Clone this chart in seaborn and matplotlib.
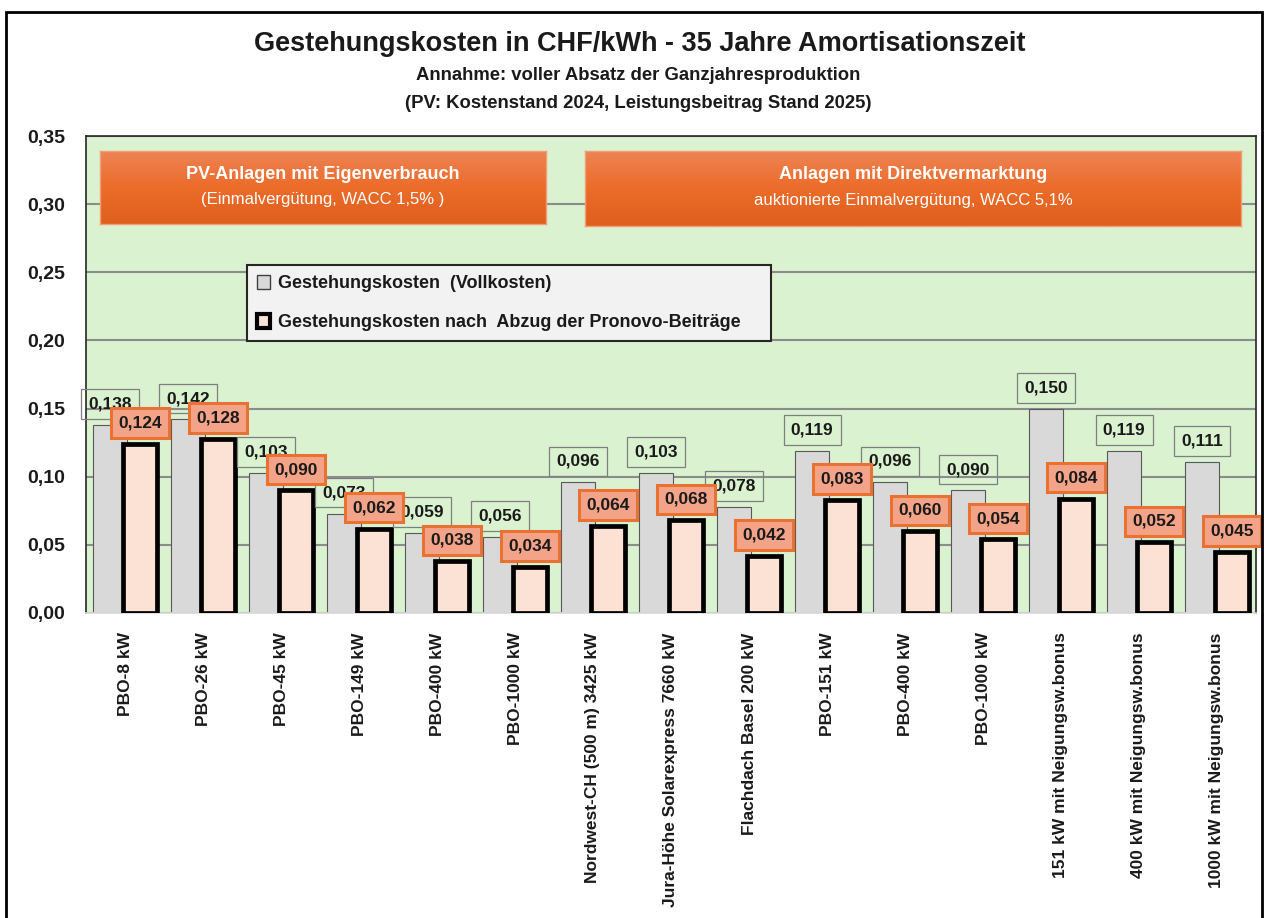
import numpy as np
import matplotlib

matplotlib.use("Agg")
import matplotlib.pyplot as plt
from matplotlib.patches import Patch, Rectangle
import seaborn as sns

# ---- Daten ----
anlagen = [
    "PBO-8 kW", "PBO-26 kW", "PBO-45 kW", "PBO-149 kW", "PBO-400 kW",
    "PBO-1000 kW", "Nordwest-CH (500 m) 3425 kW",
    "Jura-Höhe Solarexpress 7660 kW", "Flachdach Basel 200 kW",
    "PBO-151 kW", "PBO-400 kW", "PBO-1000 kW",
    "151 kW mit Neigungsw.bonus", "400 kW mit Neigungsw.bonus",
    "1000 kW mit Neigungsw.bonus",
]
vollkosten = [0.138, 0.142, 0.103, 0.073, 0.059, 0.056, 0.096, 0.103,
              0.078, 0.119, 0.096, 0.090, 0.150, 0.119, 0.111]
nach_pronovo = [0.124, 0.128, 0.090, 0.062, 0.038, 0.034, 0.064, 0.068,
                0.042, 0.083, 0.060, 0.054, 0.084, 0.052, 0.045]

W, H = 1264, 918
NARROW = ["Liberation Sans Narrow", "Liberation Sans", "DejaVu Sans"]
ARIAL = ["Liberation Sans", "DejaVu Sans"]


def fx(px):
    return px / W


def fy(py):
    return 1 - py / H


def komma(v, n=3):
    return f"{v:.{n}f}".replace(".", ",")


sns.set_theme(style="white")
plt.rcParams["font.family"] = ARIAL
plt.rcParams["text.color"] = "#1A1A1A"

fig = plt.figure(figsize=(W / 100, H / 100), dpi=100)
fig.patch.set_facecolor("white")
ax = fig.add_axes([fx(86), fy(613), fx(1256) - fx(86), fy(136) - fy(613)])
ax.set_facecolor("#DAF2D0")

idx = np.arange(len(anlagen))
sns.barplot(x=idx - 0.19, y=vollkosten, native_scale=True, width=0.44,
            color="#D9D9D9", edgecolor="#595959", linewidth=0.8,
            saturation=1, errorbar=None, ax=ax, zorder=2)
sns.barplot(x=idx + 0.19, y=nach_pronovo, native_scale=True, width=0.44,
            color="#FBE2D5", edgecolor="black", linewidth=3.4,
            saturation=1, errorbar=None, ax=ax, zorder=3)

ax.set_xlim(-0.5, len(anlagen) - 0.5)
ax.set_ylim(0, 0.35)
ax.set_yticks(np.arange(0, 0.351, 0.05))
ax.set_yticklabels([komma(v, 2) for v in np.arange(0, 0.351, 0.05)],
                   fontsize=14, fontweight="bold", color="#1A1A1A")
ax.set_xticks(idx)
ax.set_xticklabels(anlagen, rotation=90, fontsize=12.5, fontweight="bold",
                   va="top", ha="center", color="#1A1A1A")
ax.tick_params(axis="x", length=0, pad=14)
ax.tick_params(axis="y", length=0, pad=15)
ax.set_xlabel("")
ax.set_ylabel("")
ax.yaxis.grid(True, color="#8C8C8C", linewidth=1.5, zorder=0)
ax.set_axisbelow(True)
for side in ["left", "top", "right"]:
    ax.spines[side].set_color("#262626")
    ax.spines[side].set_linewidth(1.2)
ax.spines["bottom"].set_color("#D9D9D9")

# Wertebeschriftungen
for i, v in enumerate(vollkosten):
    ax.annotate(komma(v), (i - 0.19, v), xytext=(0, 15),
                textcoords="offset points", ha="center", va="center",
                fontsize=12.5, fontweight="bold", zorder=4,
                annotation_clip=False,
                bbox=dict(boxstyle="square,pad=0.42", fc="none",
                          ec="#7F7F7F", lw=0.9))
for i, v in enumerate(nach_pronovo):
    ax.annotate(komma(v), (i + 0.19, v), xytext=(0, 15),
                textcoords="offset points", ha="center", va="center",
                fontsize=12.5, fontweight="bold", zorder=6,
                annotation_clip=False,
                bbox=dict(boxstyle="square,pad=0.42", fc="#F3A488",
                          ec="#E97132", lw=2.2))

# Legende
handles = [
    Patch(facecolor="#D9D9D9", edgecolor="#404040", linewidth=1),
    Patch(facecolor="#FBE2D5", edgecolor="black", linewidth=3),
]
leg_labels = ["Gestehungskosten  (Vollkosten)",
              "Gestehungskosten nach  Abzug der Pronovo-Beiträge"]
lx0 = (247 - 86) / 1170
ly1 = (613 - 265) / 477
lw_ = (771 - 247) / 1170
lh_ = (342 - 265) / 477
leg = ax.legend(handles, leg_labels, loc="upper left",
                bbox_to_anchor=(lx0, ly1 - lh_, lw_, lh_), mode="expand",
                borderaxespad=0, fancybox=False, framealpha=1,
                facecolor="#F2F2F2", edgecolor="#262626",
                handlelength=0.75, handleheight=0.8, handletextpad=0.4,
                labelspacing=1.2, borderpad=0.55,
                prop={"family": NARROW, "weight": "bold", "size": 13})
leg.get_frame().set_linewidth(1.5)
leg.set_zorder(7)
for t in leg.get_texts():
    t.set_color("#1A1A1A")


# orange Kästen mit Verlauf
def kasten(x0, y0, x1, y1, kopf, zeile):
    bax = fig.add_axes([fx(x0), fy(y1), fx(x1) - fx(x0), fy(y0) - fy(y1)])
    grad = np.linspace(0, 1, 64).reshape(-1, 1)
    cmap = matplotlib.colors.LinearSegmentedColormap.from_list(
        "orng", ["#EE8455", "#EC6C2A", "#DF5F1E"])
    bax.imshow(grad, aspect="auto", cmap=cmap, extent=[0, 1, 0, 1],
               origin="upper")
    bax.set_xlim(0, 1)
    bax.set_ylim(0, 1)
    bax.set_xticks([])
    bax.set_yticks([])
    for s in bax.spines.values():
        s.set_color("#F29E74")
        s.set_linewidth(1)
    bax.text(0.5, 0.68, kopf, ha="center", va="center", color="white",
             fontsize=13, fontweight="bold", family=NARROW)
    bax.text(0.5, 0.34, zeile, ha="center", va="center", color="white",
             fontsize=12, family=NARROW)


kasten(100, 151, 546, 224, "PV-Anlagen mit Eigenverbrauch",
       "(Einmalvergütung, WACC 1,5% )")
kasten(585, 151, 1241, 226, "Anlagen mit Direktvermarktung",
       "auktionierte Einmalvergütung, WACC 5,1%")

# Titel
fig.text(fx(640), fy(44), "Gestehungskosten in CHF/kWh - 35 Jahre Amortisationszeit",
         ha="center", va="center", fontsize=19.5, fontweight="bold",
         family=NARROW)
fig.text(fx(638), fy(75), "Annahme: voller Absatz der Ganzjahresproduktion",
         ha="center", va="center", fontsize=13.3, fontweight="bold",
         family=NARROW)
fig.text(fx(638), fy(103), "(PV: Kostenstand 2024, Leistungsbeitrag Stand 2025)",
         ha="center", va="center", fontsize=13.3, fontweight="bold",
         family=NARROW)

# äusserer Rahmen
fig.patches.append(Rectangle((fx(6), -0.05), fx(1262) - fx(6), fy(12) + 0.05,
                             transform=fig.transFigure, fill=False,
                             edgecolor="black", linewidth=2))

fig.savefig("out.png", dpi=100)
